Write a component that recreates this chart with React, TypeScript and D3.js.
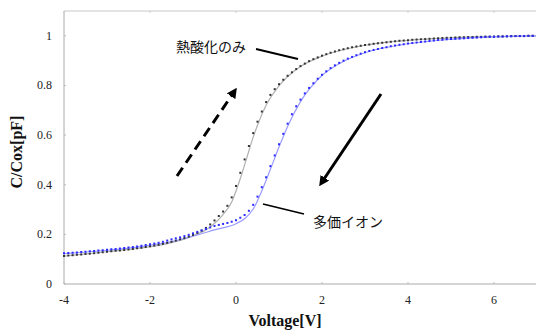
import * as d3 from "d3";

const WIDTH = 536;
const HEIGHT = 331;

// voltage sweep of the measured points (-4 V .. 7 V, 0.1 V step)
const sweepStart = -4;
const sweepStep = 0.1;

// measured C/Cox, thermal oxidation only (black dots)
const thermalDots = [
  0.113, 0.115, 0.116, 0.118, 0.119, 0.121, 0.122, 0.124, 0.126, 0.128,
  0.130, 0.132, 0.134, 0.135, 0.137, 0.139, 0.141, 0.144, 0.146, 0.149,
  0.152, 0.155, 0.158, 0.162, 0.166, 0.170, 0.175, 0.180, 0.185, 0.191,
  0.198, 0.206, 0.215, 0.226, 0.240, 0.256, 0.274, 0.292, 0.315, 0.349,
  0.395, 0.448, 0.502, 0.556, 0.608, 0.654, 0.695, 0.733, 0.762, 0.785,
  0.805, 0.823, 0.839, 0.853, 0.866, 0.878, 0.888, 0.898, 0.906, 0.913,
  0.920, 0.926, 0.932, 0.937, 0.942, 0.946, 0.950, 0.954, 0.957, 0.960,
  0.963, 0.965, 0.968, 0.970, 0.972, 0.974, 0.976, 0.978, 0.980, 0.981,
  0.982, 0.984, 0.985, 0.986, 0.987, 0.988, 0.989, 0.990, 0.991, 0.992,
  0.992, 0.993, 0.994, 0.994, 0.995, 0.995, 0.996, 0.996, 0.997, 0.997,
  0.997, 0.998, 0.998, 0.998, 0.999, 0.999, 0.999, 0.999, 1.0, 1.0,
  1.0,
];

// measured C/Cox, multivalent ion (blue dots)
const ionDots = [
  0.124, 0.125, 0.126, 0.127, 0.129, 0.130, 0.132, 0.133, 0.135, 0.136,
  0.138, 0.140, 0.141, 0.143, 0.145, 0.147, 0.149, 0.151, 0.154, 0.157,
  0.160, 0.163, 0.166, 0.170, 0.175, 0.180, 0.184, 0.188, 0.193, 0.198,
  0.204, 0.210, 0.216, 0.222, 0.228, 0.234, 0.238, 0.242, 0.246, 0.251,
  0.257, 0.267, 0.278, 0.295, 0.319, 0.352, 0.390, 0.430, 0.475, 0.518,
  0.563, 0.605, 0.646, 0.684, 0.716, 0.743, 0.768, 0.790, 0.809, 0.827,
  0.843, 0.857, 0.870, 0.881, 0.891, 0.900, 0.908, 0.915, 0.922, 0.928,
  0.934, 0.939, 0.943, 0.947, 0.951, 0.954, 0.958, 0.961, 0.964, 0.966,
  0.969, 0.971, 0.973, 0.975, 0.977, 0.979, 0.981, 0.983, 0.984, 0.986,
  0.987, 0.988, 0.989, 0.990, 0.991, 0.992, 0.993, 0.994, 0.995, 0.996,
  0.996, 0.997, 0.997, 0.998, 0.998, 0.999, 0.999, 0.999, 1.0, 1.0,
  1.0,
];

// fitted curves (solid lines)
const thermalFitV = [-4, -3, -2, -1.5, -1, -0.6, -0.3, -0.1, 0, 0.1, 0.2, 0.3, 0.4, 0.5, 0.7, 1.0, 1.5, 2, 3, 4, 5, 6, 7];
const thermalFit = [0.112, 0.130, 0.150, 0.167, 0.194, 0.230, 0.280, 0.330, 0.375, 0.425, 0.480, 0.537, 0.592, 0.640, 0.720, 0.798, 0.876, 0.918, 0.962, 0.982, 0.992, 0.997, 1.0];
const ionFitV = [-4, -3, -2, -1.5, -1, -0.5, 0, 0.2, 0.4, 0.6, 0.8, 1.0, 1.2, 1.5, 2, 2.5, 3, 4, 5, 6, 7];
const ionFit = [0.122, 0.136, 0.156, 0.171, 0.193, 0.218, 0.243, 0.263, 0.302, 0.375, 0.462, 0.552, 0.635, 0.735, 0.840, 0.897, 0.932, 0.968, 0.986, 0.996, 1.0];

const xTicks = [-4, -2, 0, 2, 4, 6];
const yTicks = [0, 0.2, 0.4, 0.6, 0.8, 1];

const margin = { top: 10, right: 0, bottom: 47, left: 64 };

const x = d3.scaleLinear().domain([-4, 7]).range([margin.left, margin.left + 473]);
const y = d3.scaleLinear().domain([0, 1.1]).range([HEIGHT - margin.bottom, margin.top + 1]);

const toPoints = (vals: number[]) =>
  vals.map((c, i) => ({ v: +(sweepStart + i * sweepStep).toFixed(2), c }));

const line = d3
  .line<[number, number]>()
  .x((d) => x(d[0]))
  .y((d) => y(d[1]))
  .curve(d3.curveMonotoneX);

const serif = "'Liberation Serif', 'DejaVu Serif', serif";
const jp = "'Noto Sans CJK JP', sans-serif";

export default function App() {
  const x0 = x(-4);
  const x1 = x(7);
  const yb = y(0);
  const yt = y(1.1);
  return (
    <svg
      width={WIDTH}
      height={HEIGHT}
      style={{ position: "absolute", left: 0, top: 0, background: "#fff" }}
    >
      <defs>
        <marker id="headDash" viewBox="0 0 10 10" refX="5" refY="5" markerWidth="3.4" markerHeight="3.4" orient="auto">
          <path d="M0,0 L10,5 L0,10 z" fill="#000" />
        </marker>
        <marker id="headSolid" viewBox="0 0 10 10" refX="5" refY="5" markerWidth="3.4" markerHeight="3.4" orient="auto">
          <path d="M0,0 L10,5 L0,10 z" fill="#000" />
        </marker>
      </defs>

      {/* frame */}
      <line x1={x0} x2={x1} y1={yt} y2={yt} stroke="#c8c8c8" />
      <line x1={x0} x2={x0} y1={yt} y2={yb} stroke="#aaa" />
      <line x1={x0} x2={x1} y1={yb} y2={yb} stroke="#aaa" />

      {xTicks.map((t) => (
        <g key={"x" + t}>
          <line x1={x(t)} x2={x(t)} y1={yb} y2={yb - 2} stroke="#bbb" />
          <line x1={x(t)} x2={x(t)} y1={yt} y2={yt + 2} stroke="#ccc" />
          <text x={x(t)} y={yb + 20} textAnchor="middle" fontFamily={serif} fontSize={12} fill="#222">
            {t}
          </text>
        </g>
      ))}
      {yTicks.map((t) => (
        <g key={"y" + t}>
          <line x1={x0} x2={x0 + 2} y1={y(t)} y2={y(t)} stroke="#bbb" />
          <text x={52} y={y(t) + 4} textAnchor="end" fontFamily={serif} fontSize={12} fill="#222">
            {t}
          </text>
        </g>
      ))}

      <text x={285} y={326} textAnchor="middle" fontFamily={serif} fontWeight="bold" fontSize={16} fill="#111">
        Voltage[V]
      </text>
      <text
        transform={`translate(22,152) rotate(-90)`}
        textAnchor="middle"
        fontFamily={serif}
        fontWeight="bold"
        fontSize={16}
        fill="#111"
      >
        C/Cox[pF]
      </text>

      {/* fitted curves */}
      <path
        d={line(thermalFitV.map((v, i) => [v, thermalFit[i]]) as [number, number][]) ?? ""}
        fill="none"
        stroke="#b0b0b0"
        strokeWidth={1.2}
      />
      <path
        d={line(ionFitV.map((v, i) => [v, ionFit[i]]) as [number, number][]) ?? ""}
        fill="none"
        stroke="#9a9aff"
        strokeWidth={1.2}
      />

      {/* measured points */}
      {toPoints(thermalDots).map((d, i) => (
        <rect key={"t" + i} x={x(d.v) - 1} y={y(d.c) - 1} width={2} height={2} fill="#333" />
      ))}
      {toPoints(ionDots).map((d, i) => (
        <rect key={"i" + i} x={x(d.v) - 1} y={y(d.c) - 1} width={2} height={2} fill="#2b2bff" />
      ))}

      {/* annotations */}
      <text x={176} y={52} fontFamily={jp} fontSize={14} fill="#111">
        熱酸化のみ
      </text>
      <line x1={256} y1={49} x2={298} y2={59} stroke="#000" strokeWidth={1.8} />
      <text x={313} y={227} fontFamily={jp} fontSize={14} fill="#111">
        多価イオン
      </text>
      <line x1={263} y1={204} x2={304} y2={214} stroke="#000" strokeWidth={1.8} />

      <line
        x1={177}
        y1={176}
        x2={234}
        y2={92}
        stroke="#000"
        strokeWidth={3}
        strokeDasharray="10,6"
        markerEnd="url(#headDash)"
      />
      <line x1={381} y1={94} x2={322} y2={182} stroke="#000" strokeWidth={3} markerEnd="url(#headSolid)" />
    </svg>
  );
}
